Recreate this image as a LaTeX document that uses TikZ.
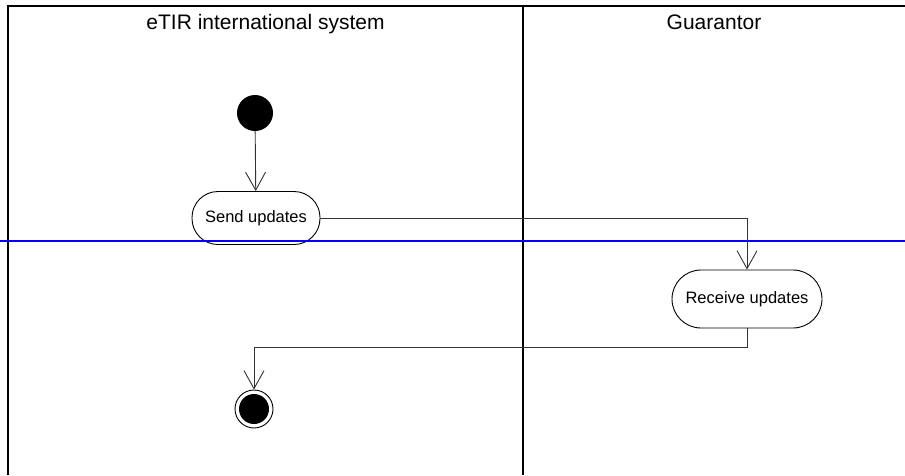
\documentclass[tikz,border=0pt]{standalone}
\usepackage{fontspec}
\setmainfont{Liberation Sans}
\usepackage{tikz}
\usetikzlibrary{calc}
\usetikzlibrary{arrows.meta}
\usetikzlibrary{positioning}

\tikzset{
  lane/.style={line width=1.6pt,black},
  swim/.style={line width=1.6pt,blue},
  flow/.style={line width=0.9pt,black!80,-{Straight Barb[length=18pt,width=20pt,line width=0.9pt]}},
  action/.style={draw,line width=0.9pt,rounded corners=26pt,minimum width=128pt,minimum height=53pt,inner sep=0pt,font=\fontsize{16.5}{18}\selectfont},
  lanetitle/.style={anchor=base,font=\fontsize{21}{24}\selectfont}
}

\begin{document}
\begin{tikzpicture}[x=1pt,y=-1pt]
\useasboundingbox[fill=white] (0,0) rectangle (905,475);

% lanes
\draw[lane] (8,475) -- (8,6) -- (905,6);
\draw[lane] (523,6) -- (523,475);
\node[lanetitle] (etir) at (265.5,29) {eTIR international system};
\node[lanetitle] (guar) at (714,29) {Guarantor};

\node[circle,fill,minimum size=36pt,inner sep=0pt] (start) at (255,113) {};
\node[action] (send) at (256,218) {Send updates};
\node[action,minimum width=150pt,minimum height=58pt,rounded corners=29pt] (recv) at (747,299) {Receive updates};

\node[circle,draw,line width=0.9pt,minimum size=38pt,inner sep=0pt] (stop) at (254,409) {};
\node[circle,fill,minimum size=30pt,inner sep=0pt] at (stop) {};

\draw[swim] (0,241) -- (905,241);

\draw[flow] (start) -- (send);
\draw[flow] (send.east) -| (recv.north);
\draw[flow] (recv.south) -- ++(0,19) -| (stop.north);
\end{tikzpicture}
\end{document}
